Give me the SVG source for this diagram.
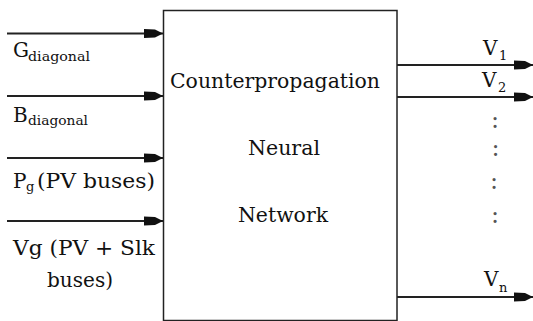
<svg xmlns="http://www.w3.org/2000/svg" width="533" height="321" viewBox="0 0 533 321">
<defs>
<style>
text{font-family:'DejaVu Serif','Liberation Serif',serif}
.t{font-size:20px;fill:#111}
.s{font-size:13px;fill:#111}
.d{font-size:24px;fill:#555;text-anchor:middle}
.ln{stroke:#222;stroke-width:2;fill:none}
.box{stroke:#222;stroke-width:1.5;fill:#fff}
</style>
<marker id="ah" viewBox="0 0 20 10" refX="20" refY="5" markerWidth="20" markerHeight="10" markerUnits="userSpaceOnUse" orient="auto">
<path d="M20,5 L12,1 L1,0.5 L1,9.5 L12,9 Z" fill="#111"/>
</marker>
</defs>
<g id="network">
<rect class="box" x="163.5" y="10.5" width="233.5" height="310"/>
<text class="t" x="170" y="88" textLength="210" lengthAdjust="spacingAndGlyphs">Counterpropagation</text>
<text class="t" x="248" y="155" textLength="72" lengthAdjust="spacingAndGlyphs">Neural</text>
<text class="t" x="238" y="222" textLength="90" lengthAdjust="spacingAndGlyphs">Network</text>
</g>
<g id="connectors">
<line class="ln" x1="7" y1="33.5" x2="163" y2="33.5" marker-end="url(#ah)"/>
<line class="ln" x1="7" y1="96" x2="163" y2="96" marker-end="url(#ah)"/>
<line class="ln" x1="7" y1="158" x2="163" y2="158" marker-end="url(#ah)"/>
<line class="ln" x1="7" y1="221" x2="163" y2="221" marker-end="url(#ah)"/>
<line class="ln" x1="397" y1="65" x2="533" y2="65" marker-end="url(#ah)"/>
<line class="ln" x1="397" y1="97" x2="533" y2="97" marker-end="url(#ah)"/>
<line class="ln" x1="397" y1="297" x2="533" y2="297" marker-end="url(#ah)"/>
</g>
<g id="in-g">
<text class="t" x="13" y="57">G</text>
<text class="s" x="28" y="61" textLength="62" lengthAdjust="spacingAndGlyphs">diagonal</text>
</g>
<g id="in-b">
<text class="t" x="13" y="122">B</text>
<text class="s" x="28" y="125" textLength="60" lengthAdjust="spacingAndGlyphs">diagonal</text>
</g>
<g id="in-pg">
<text class="t" x="13" y="188">P</text>
<text class="s" x="26" y="191">g</text>
<text class="t" x="37" y="188" textLength="118" lengthAdjust="spacingAndGlyphs">(PV buses)</text>
</g>
<g id="in-vg">
<text class="t" x="13" y="255" textLength="142" lengthAdjust="spacingAndGlyphs">Vg (PV + Slk</text>
<text class="t" x="47" y="287" textLength="66" lengthAdjust="spacingAndGlyphs">buses)</text>
</g>
<g id="out-v1">
<text class="t" x="483" y="55">V</text>
<text class="s" x="499" y="60">1</text>
</g>
<g id="out-v2">
<text class="t" x="482" y="87">V</text>
<text class="s" x="498" y="92">2</text>
</g>
<g id="out-dots">
<text class="d" x="495" y="127.5">:</text>
<text class="d" x="495.5" y="155.5">:</text>
<text class="d" x="494" y="188.5">:</text>
<text class="d" x="495" y="222.5">:</text>
</g>
<g id="out-vn">
<text class="t" x="484" y="286">V</text>
<text class="s" x="499" y="292">n</text>
</g>
</svg>
